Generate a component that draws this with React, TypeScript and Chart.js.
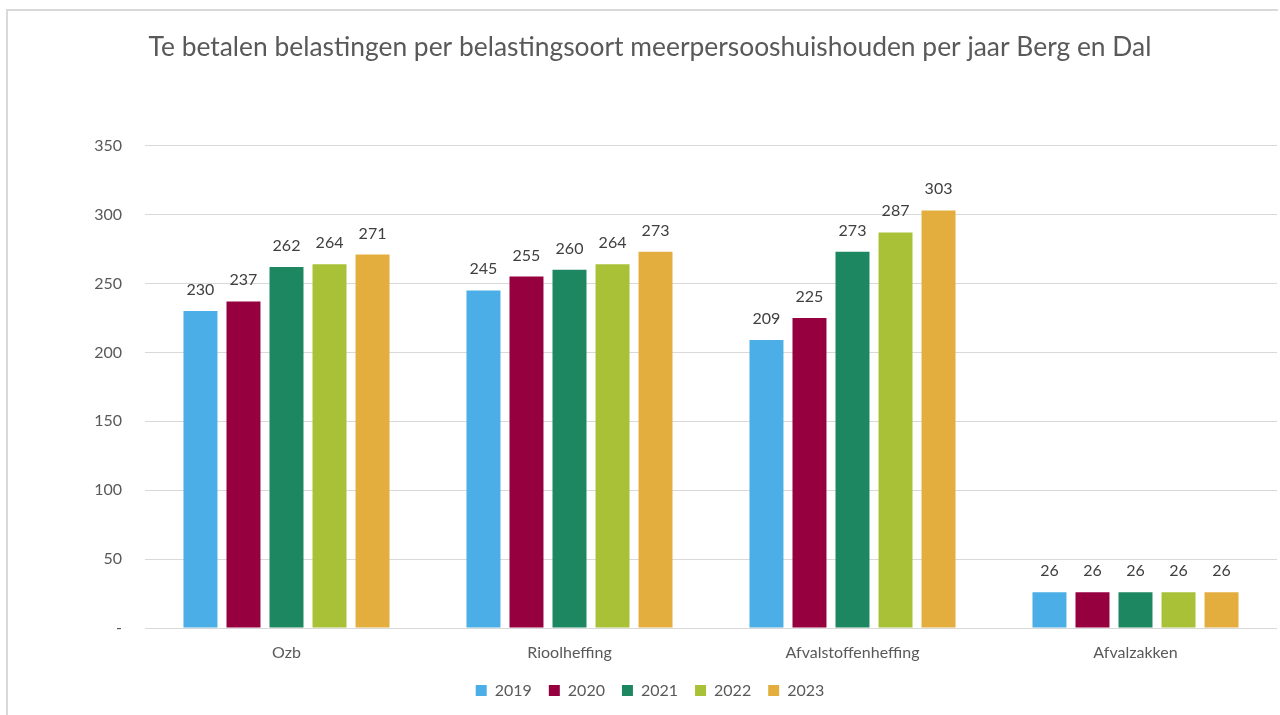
import React, { useEffect, useRef } from "react";
import { Chart, registerables } from "chart.js";

Chart.register(...registerables);

const TITLE = "Te betalen belastingen per belastingsoort meerpersooshuishouden per jaar Berg en Dal";
const categories = ["Ozb", "Rioolheffing", "Afvalstoffenheffing", "Afvalzakken"];
const years = ["2019", "2020", "2021", "2022", "2023"];
const values2019 = [230, 245, 209, 26];
const values2020 = [237, 255, 225, 26];
const values2021 = [262, 260, 273, 26];
const values2022 = [264, 264, 287, 26];
const values2023 = [271, 273, 303, 26];
const seriesValues = [values2019, values2020, values2021, values2022, values2023];
const colors = ["#4BAEE6", "#96003F", "#1C8760", "#A8C136", "#E4AE3F"];
const yTicks = [0, 50, 100, 150, 200, 250, 300, 350];

const FONT = "Lato, 'Open Sans', sans-serif";
const TEXT = "#595959";

const frame = {
  id: "frame",
  beforeDraw(chart: any) {
    const { ctx, width, height } = chart;
    ctx.save();
    ctx.fillStyle = "#ffffff";
    ctx.fillRect(0, 0, width, height);
    ctx.strokeStyle = "#D9D9D9";
    ctx.lineWidth = 2;
    ctx.beginPath();
    ctx.moveTo(7, height);
    ctx.lineTo(7, 10);
    ctx.lineTo(1278, 10);
    ctx.stroke();
    ctx.restore();
  },
};

const dataLabels = {
  id: "dataLabels",
  afterDatasetsDraw(chart: any) {
    const { ctx } = chart;
    ctx.save();
    ctx.font = `16px ${FONT}`;
    ctx.fillStyle = "#404040";
    ctx.textAlign = "center";
    ctx.textBaseline = "alphabetic";
    chart.data.datasets.forEach((ds: any, i: number) => {
      const meta = chart.getDatasetMeta(i);
      meta.data.forEach((bar: any, j: number) => {
        ctx.fillText(String(ds.data[j]), bar.x, bar.y - 16);
      });
    });
    ctx.restore();
  },
};

export default function App() {
  const ref = useRef<HTMLCanvasElement | null>(null);

  useEffect(() => {
    document.body.style.margin = "0";
    document.body.style.overflow = "hidden";
    const canvas = ref.current!;
    const chart = new Chart(canvas, {
      type: "bar",
      data: {
        labels: categories,
        datasets: years.map((y, i) => ({
          label: y,
          data: seriesValues[i],
          backgroundColor: colors[i],
          borderWidth: 0,
          categoryPercentage: 0.76,
          barPercentage: 0.79,
        })),
      },
      options: {
        responsive: false,
        animation: false,
        layout: { padding: { left: 23, right: 3, top: 0, bottom: 6.5 } },
        plugins: {
          title: {
            display: true,
            text: TITLE,
            color: TEXT,
            font: { family: FONT, size: 26.4, weight: "normal" },
            padding: { top: 32, bottom: 82 },
          },
          legend: {
            display: true,
            position: "bottom",
            labels: {
              boxWidth: 11,
              boxHeight: 11,
              padding: 17,
              color: TEXT,
              font: { family: FONT, size: 16 },
            },
          },
          tooltip: { enabled: false },
        },
        scales: {
          x: {
            grid: { display: false, drawTicks: false },
            border: { display: false },
            ticks: { color: TEXT, font: { family: FONT, size: 16 }, padding: 15 },
            afterFit(scale: any) {
              scale.height = 37.5;
            },
          },
          y: {
            min: 0,
            max: 350,
            afterBuildTicks(scale: any) {
              scale.ticks = yTicks.map((v) => ({ value: v }));
            },
            grid: { color: "#D9D9D9", lineWidth: 1, drawTicks: false },
            border: { display: false },
            ticks: {
              color: TEXT,
              font: { family: FONT, size: 16 },
              padding: 23,
              callback: (v: any) => (Number(v) === 0 ? "-" : String(v)),
            },
            afterFit(scale: any) {
              scale.width = 122;
            },
          },
        },
      },
      plugins: [frame, dataLabels],
    });
    return () => chart.destroy();
  }, []);

  return (
    <canvas
      ref={ref}
      width={1280}
      height={715}
      style={{ position: "fixed", left: 0, top: 0, width: 1280, height: 715 }}
    />
  );
}
